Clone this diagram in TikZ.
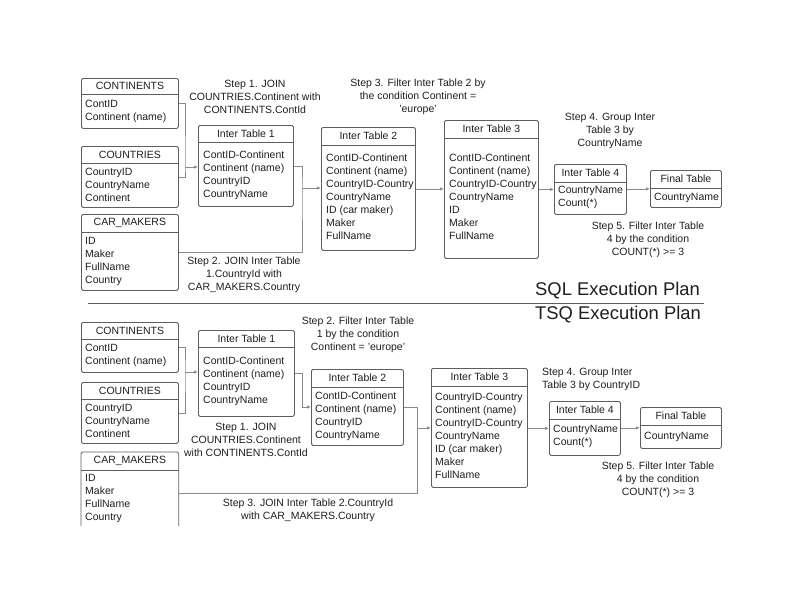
\documentclass[tikz,border=0pt]{standalone}
\usepackage{fontspec}
\setmainfont{Liberation Sans}
\usetikzlibrary{positioning, calc, arrows.meta}
\definecolor{bordo}{HTML}{5E5E5E}
\definecolor{linea}{HTML}{8A8A8A}
\definecolor{testo}{HTML}{1E1E1E}
\tikzset{
    tabella/.style={draw=bordo, line width=0.8pt, rounded corners=1.5pt, inner sep=0pt, anchor=north west},
    titolo/.style={font=\fontsize{10.5}{13}\selectfont, text=testo, inner sep=0pt},
    campi/.style={font=\fontsize{10.5}{13}\selectfont, text=testo, align=left, inner sep=0pt, anchor=north west},
    passo/.style={font=\fontsize{10.5}{13}\selectfont, text=testo, align=center, inner sep=0pt},
    piano/.style={font=\fontsize{18.4}{22}\selectfont, text=testo, inner sep=0pt, anchor=west},
    sep/.style={draw=bordo, line width=0.8pt},
    conn/.style={draw=linea, line width=0.8pt},
    freccia/.style={conn, -{Latex[length=4pt,width=3.5pt]}}
}
\begin{document}
\begin{tikzpicture}[x=1pt,y=-1pt]
        \useasboundingbox (0,0) rectangle (800,600);
        %%%%%%%%%%%%%%%% piano SQL %%%%%%%%%%%%%%%%
        %tabelle di partenza
        \node[tabella, minimum width=97, minimum height=50] (cont1) at (81,78) {};
        \draw[sep] ([yshift=-16]cont1.north west) -- ([yshift=-16]cont1.north east);
        \node[titolo] (cont1t) at ([yshift=-8]cont1.north) {CONTINENTS};
        \node[campi] (cont1c) at (85,100) {ContID\\Continent (name)};
        %%
        \node[tabella, minimum width=97, minimum height=61] (coun1) at (81,146) {};
        \draw[sep] ([yshift=-17]coun1.north west) -- ([yshift=-17]coun1.north east);
        \node[titolo] (coun1t) at ([yshift=-8.5]coun1.north) {COUNTRIES};
        \node[campi] (coun1c) at (85,168) {CountryID\\CountryName\\Continent};
        %%
        \node[tabella, minimum width=97, minimum height=76] (car1) at (81,214) {};
        \draw[sep] ([yshift=-18]car1.north west) -- ([yshift=-18]car1.north east);
        \node[titolo] (car1t) at ([yshift=-9]car1.north) {CAR\_MAKERS};
        \node[campi] (car1c) at (85,237) {ID\\Maker\\FullName\\Country};
        %tabelle intermedie
        \node[tabella, minimum width=95, minimum height=81] (it11) at (198,125) {};
        \draw[sep] ([yshift=-17]it11.north west) -- ([yshift=-17]it11.north east);
        \node[titolo] (it11t) at ([yshift=-8.5]it11.north) {Inter Table 1};
        \node[campi] (it11c) at (203,151) {ContID-Continent\\Continent (name)\\CountryID\\CountryName};
        %%
        \node[tabella, minimum width=94, minimum height=123] (it21) at (321,127) {};
        \draw[sep] ([yshift=-18]it21.north west) -- ([yshift=-18]it21.north east);
        \node[titolo] (it21t) at ([yshift=-9]it21.north) {Inter Table 2};
        \node[campi] (it21c) at (326,154) {ContID-Continent\\Continent (name)\\CountryID-Country\\CountryName\\ID (car maker)\\Maker\\FullName};
        %%
        \node[tabella, minimum width=94, minimum height=138] (it31) at (444,120) {};
        \draw[sep] ([yshift=-18]it31.north west) -- ([yshift=-18]it31.north east);
        \node[titolo] (it31t) at ([yshift=-9]it31.north) {Inter Table 3};
        \node[campi] (it31c) at (449,154) {ContID-Continent\\Continent (name)\\CountryID-Country\\CountryName\\ID\\Maker\\FullName};
        %%
        \node[tabella, minimum width=72, minimum height=50] (it41) at (554,164) {};
        \draw[sep] ([yshift=-18]it41.north west) -- ([yshift=-18]it41.north east);
        \node[titolo] (it41t) at ([yshift=-9]it41.north) {Inter Table 4};
        \node[campi] (it41c) at (558,186) {CountryName\\Count(*)};
        %%
        \node[tabella, minimum width=71, minimum height=37] (fin1) at (650,170) {};
        \draw[sep] ([yshift=-18]fin1.north west) -- ([yshift=-18]fin1.north east);
        \node[titolo] (fin1t) at ([yshift=-9]fin1.north) {Final Table};
        \node[campi] (fin1c) at (654,193) {CountryName};
        %collegamenti
        \coordinate (j1) at (185,167);
        \coordinate (j2) at (302,188);
        \draw[conn] (cont1.east) -| (j1) |- (coun1.east);
        \draw[freccia] (j1) -- (j1 -| it11.west);
        \draw[conn] (it11.east) -| (j2) |- (car1.east);
        \draw[freccia] (j2) -- (j2 -| it21.west);
        \draw[freccia] (it21.east) -- (it21.east -| it31.west);
        \draw[freccia] (it31.east |- it41.west) -- (it41.west);
        \draw[freccia] (it41.east |- fin1.west) -- (fin1.west);
        %passi
        \node[passo] (s11) at (255,97) {Step 1. JOIN\\COUNTRIES.Continent with\\CONTINENTS.ContId};
        \node[passo] (s21) at (244,275) {Step 2. JOIN Inter Table\\1.CountryId with\\CAR\_MAKERS.Country};
        \node[passo] (s31) at (418,97) {Step 3. Filter Inter Table 2 by\\the condition Continent =\\'europe'};
        \node[passo] (s41) at (610,131) {Step 4. Group Inter\\Table 3 by\\CountryName};
        \node[passo] (s51) at (648,240) {Step 5. Filter Inter Table\\4 by the condition\\COUNT(*) >= 3};
        %titoli e separatore
        \node[piano] (sql) at (535,291) {SQL Execution Plan};
        \draw[bordo, line width=0.8pt] (88,303) -- (704,303);
        \node[piano] (tsq) at (535,315) {TSQ Execution Plan};
        %%%%%%%%%%%%%%%% piano TSQ %%%%%%%%%%%%%%%%
        %tabelle di partenza
        \node[tabella, minimum width=97, minimum height=50] (cont2) at (81,322) {};
        \draw[sep] ([yshift=-17]cont2.north west) -- ([yshift=-17]cont2.north east);
        \node[titolo] (cont2t) at ([yshift=-8.5]cont2.north) {CONTINENTS};
        \node[campi] (cont2c) at (85,344) {ContID\\Continent (name)};
        %%
        \node[tabella, minimum width=97, minimum height=61] (coun2) at (81,382) {};
        \draw[sep] ([yshift=-17]coun2.north west) -- ([yshift=-17]coun2.north east);
        \node[titolo] (coun2t) at ([yshift=-8.5]coun2.north) {COUNTRIES};
        \node[campi] (coun2c) at (85,404) {CountryID\\CountryName\\Continent};
        %%
        \node[tabella, draw=none, minimum width=97, minimum height=73] (car2) at (81,452) {};
        \draw[sep, rounded corners=1.5pt] (car2.south west) |- (car2.north east) -- (car2.south east);
        \draw[sep] ([yshift=-18]car2.north west) -- ([yshift=-18]car2.north east);
        \node[titolo] (car2t) at ([yshift=-9]car2.north) {CAR\_MAKERS};
        \node[campi] (car2c) at (85,474) {ID\\Maker\\FullName\\Country};
        %tabelle intermedie
        \node[tabella, minimum width=96, minimum height=86] (it12) at (198,330) {};
        \draw[sep] ([yshift=-17]it12.north west) -- ([yshift=-17]it12.north east);
        \node[titolo] (it12t) at ([yshift=-8.5]it12.north) {Inter Table 1};
        \node[campi] (it12c) at (203,357) {ContID-Continent\\Continent (name)\\CountryID\\CountryName};
        %%
        \node[tabella, minimum width=92, minimum height=76] (it22) at (311,369) {};
        \draw[sep] ([yshift=-18]it22.north west) -- ([yshift=-18]it22.north east);
        \node[titolo] (it22t) at ([yshift=-9]it22.north) {Inter Table 2};
        \node[campi] (it22c) at (315,392) {ContID-Continent\\Continent (name)\\CountryID\\CountryName};
        %%
        \node[tabella, minimum width=96, minimum height=119] (it32) at (431,368) {};
        \draw[sep] ([yshift=-18]it32.north west) -- ([yshift=-18]it32.north east);
        \node[titolo] (it32t) at ([yshift=-9]it32.north) {Inter Table 3};
        \node[campi] (it32c) at (435,393) {CountryID-Country\\Continent (name)\\CountryID-Country\\CountryName\\ID (car maker)\\Maker\\FullName};
        %%
        \node[tabella, minimum width=71, minimum height=54] (it42) at (549,401) {};
        \draw[sep] ([yshift=-18]it42.north west) -- ([yshift=-18]it42.north east);
        \node[titolo] (it42t) at ([yshift=-9]it42.north) {Inter Table 4};
        \node[campi] (it42c) at (553,425) {CountryName\\Count(*)};
        %%
        \node[tabella, minimum width=81, minimum height=41] (fin2) at (640,407) {};
        \draw[sep] ([yshift=-18]fin2.north west) -- ([yshift=-18]fin2.north east);
        \node[titolo] (fin2t) at ([yshift=-9]fin2.north) {Final Table};
        \node[campi] (fin2c) at (644,432) {CountryName};
        %collegamenti
        \coordinate (j3) at (185,372);
        \coordinate (j4) at (302,407);
        \coordinate (j5) at (417,428);
        \coordinate (j6) at (417,493);
        \draw[conn] (cont2.east) -| (j3) |- (coun2.east);
        \draw[freccia] (j3) -- (j3 -| it12.west);
        \draw[freccia] (it12.east) -| (j4) -- (j4 -| it22.west);
        \draw[conn] (it22.east) -| (j6) -- (j6 -| car2.east);
        \draw[freccia] (j5) -- (j5 -| it32.west);
        \draw[freccia] (it32.east |- it42.west) -- (it42.west);
        \draw[freccia] (it42.east |- fin2.west) -- (fin2.west);
        %passi
        \node[passo] (s12) at (246,440) {Step 1. JOIN\\COUNTRIES.Continent\\with CONTINENTS.ContId};
        \node[passo] (s22) at (358,335) {Step 2. Filter Inter Table\\1 by the condition\\Continent = 'europe'};
        \node[passo] (s32) at (308,510) {Step 3. JOIN Inter Table 2.CountryId\\with CAR\_MAKERS.Country};
        \node[passo, align=left, anchor=west] (s42) at (542,379) {Step 4. Group Inter\\Table 3 by CountryID};
        \node[passo] (s52) at (658,480) {Step 5. Filter Inter Table\\4 by the condition\\COUNT(*) >= 3};
\end{tikzpicture}
\end{document}
